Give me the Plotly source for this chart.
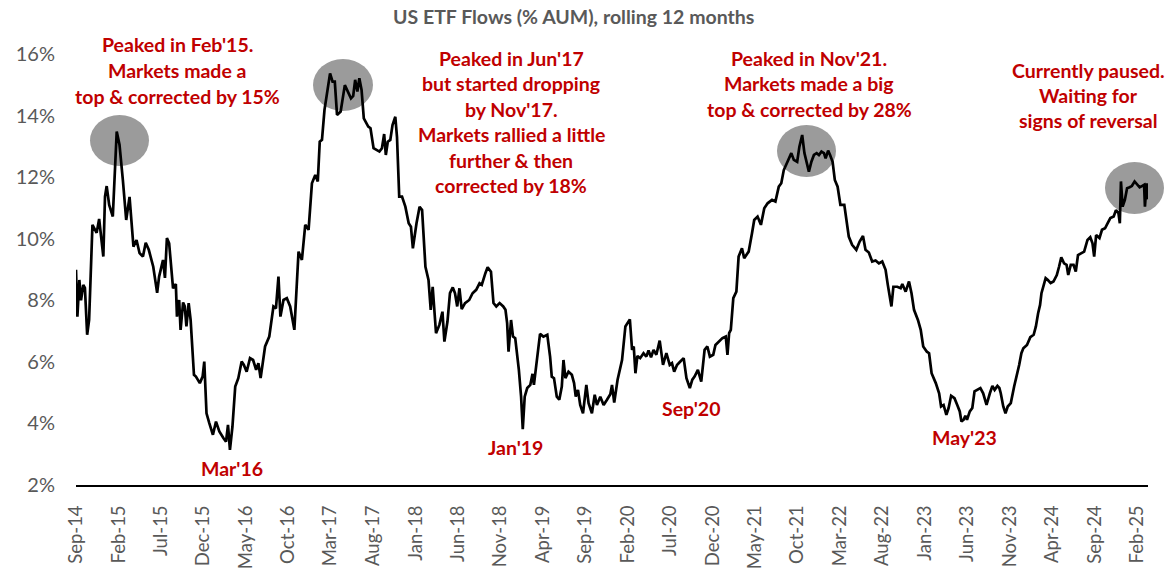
import plotly.graph_objects as go
import pandas as pd

# ---------------- data ----------------
dates = [
    "2014-09-01","2014-09-06","2014-09-13","2014-09-19","2014-09-27","2014-10-03","2014-10-11","2014-10-18","2014-10-30","2014-11-14","2014-11-23","2014-12-08","2014-12-14","2014-12-20","2014-12-29",
    "2015-01-11","2015-01-25","2015-02-04","2015-02-16","2015-02-28","2015-03-12","2015-03-26","2015-04-06","2015-04-17","2015-04-29","2015-05-09","2015-05-20","2015-06-05","2015-06-19","2015-06-26","2015-07-10","2015-07-17","2015-07-24","2015-08-01","2015-08-15","2015-08-25","2015-08-29","2015-09-06","2015-09-11","2015-09-20","2015-09-26","2015-10-02","2015-10-10","2015-10-17","2015-10-29","2015-11-05","2015-11-19","2015-11-29","2015-12-05","2015-12-13","2015-12-23",
    "2016-01-05","2016-01-16","2016-01-28","2016-02-12","2016-02-21","2016-02-28","2016-03-06","2016-03-15","2016-03-25","2016-04-05","2016-04-17","2016-04-25","2016-05-05","2016-05-17","2016-05-28","2016-06-08","2016-06-16","2016-06-24","2016-07-10","2016-07-25","2016-08-09","2016-08-18","2016-08-27","2016-09-03","2016-09-14","2016-09-26","2016-10-08","2016-10-23","2016-11-07","2016-11-19","2016-12-01","2016-12-13","2016-12-25",
    "2017-01-06","2017-01-15","2017-01-22","2017-01-30","2017-02-08","2017-02-19","2017-02-28","2017-03-09","2017-03-17","2017-03-25","2017-04-07","2017-04-22","2017-05-04","2017-05-14","2017-05-22","2017-05-29","2017-06-06","2017-06-13","2017-06-21","2017-06-29","2017-07-15","2017-07-23","2017-08-03","2017-08-15","2017-08-24","2017-09-02","2017-09-10","2017-09-16","2017-09-23","2017-10-02","2017-10-10","2017-10-20","2017-10-26","2017-11-03","2017-11-13","2017-11-25","2017-12-07","2017-12-15","2017-12-22",
    "2018-01-04","2018-01-15","2018-01-24","2018-02-05","2018-02-16","2018-02-24","2018-03-03","2018-03-15","2018-03-27","2018-04-07","2018-04-14","2018-04-25","2018-05-04","2018-05-14","2018-05-22","2018-05-30","2018-06-07","2018-06-15","2018-06-27","2018-07-12","2018-07-24","2018-08-06","2018-08-18","2018-08-26","2018-09-08","2018-09-16","2018-09-28","2018-10-07","2018-10-17","2018-10-29","2018-11-11","2018-11-19","2018-11-25","2018-11-30","2018-12-09","2018-12-16","2018-12-24",
    "2019-01-06","2019-01-14","2019-01-20","2019-01-27","2019-02-05","2019-02-16","2019-02-24","2019-03-01","2019-03-11","2019-03-23","2019-04-04","2019-04-18","2019-04-28","2019-05-04","2019-05-12","2019-05-22","2019-05-31","2019-06-09","2019-06-15","2019-06-22","2019-07-03","2019-07-15","2019-07-23","2019-07-29","2019-08-06","2019-08-14","2019-08-24","2019-09-05","2019-09-13","2019-09-25","2019-10-05","2019-10-13","2019-10-25","2019-11-06","2019-11-18","2019-11-30","2019-12-06","2019-12-14","2019-12-26",
    "2020-01-11","2020-01-23","2020-02-08","2020-02-16","2020-02-22","2020-02-28","2020-03-06","2020-03-16","2020-03-28","2020-04-07","2020-04-15","2020-04-24","2020-05-03","2020-05-13","2020-05-25","2020-06-06","2020-06-18","2020-06-30","2020-07-08","2020-07-16","2020-07-26","2020-08-07","2020-08-19","2020-08-29","2020-09-10","2020-09-19","2020-09-27","2020-10-09","2020-10-21","2020-11-02","2020-11-12","2020-11-21","2020-12-03","2020-12-11","2020-12-23",
    "2021-01-05","2021-01-17","2021-01-23","2021-01-29","2021-02-04","2021-02-13","2021-02-24","2021-03-04","2021-03-16","2021-03-24","2021-04-09","2021-04-21","2021-04-29","2021-05-11","2021-05-23","2021-06-04","2021-06-16","2021-07-02","2021-07-14","2021-07-26","2021-08-04","2021-08-13","2021-08-25","2021-09-09","2021-09-18","2021-09-30","2021-10-08","2021-10-18","2021-10-26","2021-11-03","2021-11-11","2021-11-20","2021-11-29","2021-12-09","2021-12-17","2021-12-26",
    "2022-01-04","2022-01-10","2022-01-19","2022-01-26","2022-02-04","2022-02-12","2022-02-22","2022-03-04","2022-03-18","2022-04-03","2022-04-15","2022-04-30","2022-05-12","2022-05-24","2022-06-02","2022-06-14","2022-06-26","2022-07-08","2022-07-20","2022-08-01","2022-08-13","2022-08-21","2022-08-28","2022-09-03","2022-09-10","2022-09-24","2022-10-06","2022-10-12","2022-10-24","2022-11-05","2022-11-14","2022-11-23","2022-12-07","2022-12-17","2022-12-26",
    "2023-01-08","2023-01-16","2023-01-25","2023-02-09","2023-02-21","2023-02-28","2023-03-09","2023-03-19","2023-03-27","2023-04-05","2023-04-17","2023-04-27","2023-05-06","2023-05-12","2023-05-20","2023-05-26","2023-06-01","2023-06-11","2023-06-20","2023-06-28","2023-07-08","2023-07-19","2023-07-29","2023-08-10","2023-08-22","2023-08-31","2023-09-08","2023-09-18","2023-09-25","2023-09-30","2023-10-09","2023-10-17","2023-10-25","2023-11-05","2023-11-17","2023-11-26","2023-12-05","2023-12-13","2023-12-20",
    "2024-01-02","2024-01-14","2024-01-26","2024-02-03","2024-02-11","2024-02-18","2024-02-23","2024-03-01","2024-03-09","2024-03-17","2024-03-27","2024-04-06","2024-04-18","2024-04-26","2024-05-04","2024-05-14","2024-05-23","2024-05-29","2024-06-07","2024-06-17","2024-06-25","2024-07-03","2024-07-13","2024-07-25","2024-08-06","2024-08-16","2024-08-24","2024-08-30","2024-09-06","2024-09-18","2024-09-27","2024-10-08","2024-10-17","2024-10-27","2024-11-08","2024-11-16","2024-11-25","2024-11-30","2024-12-04","2024-12-10","2024-12-18","2024-12-26",
    "2025-01-04","2025-01-12","2025-01-22","2025-02-01","2025-02-09","2025-02-17","2025-02-25","2025-02-28","2025-03-06","2025-03-11",
]

flows_pct = [
    8.99,7.47,8.66,8.00,8.50,8.40,6.88,7.36,10.45,10.19,10.64,9.42,11.37,11.71,11.10,
    10.72,13.48,13.05,11.91,10.61,11.36,9.74,9.96,9.53,9.42,9.87,9.64,9.09,8.24,8.77,9.31,8.73,10.02,9.85,8.39,8.53,7.47,8.01,7.04,7.93,7.80,7.15,7.91,7.36,5.58,5.52,5.31,5.52,6.01,4.33,4.01,
    3.63,4.06,3.74,3.52,3.41,3.95,3.14,3.90,5.20,5.47,6.01,5.90,5.68,6.12,6.06,5.74,5.96,5.47,6.50,6.82,7.80,7.74,8.77,7.47,8.01,8.07,7.80,7.04,9.58,9.31,10.45,10.29,11.80,
    12.07,11.86,13.15,13.21,14.18,14.83,15.37,15.10,15.10,14.02,14.13,14.99,14.78,14.56,14.64,15.16,14.78,15.21,14.83,13.91,13.64,13.59,12.94,12.88,12.83,12.94,13.40,12.72,13.15,13.21,13.69,13.96,13.31,11.37,11.37,11.04,10.50,10.39,9.69,
    10.50,11.04,10.93,9.09,8.66,7.69,8.44,6.93,7.20,7.63,6.66,7.31,8.23,8.42,8.23,7.80,8.39,7.71,7.91,8.01,8.23,8.34,8.55,8.50,8.88,9.07,8.93,7.91,7.80,7.91,7.80,7.69,7.26,6.33,7.36,6.82,6.77,
    5.74,4.87,3.81,4.87,5.15,5.25,5.61,5.25,6.06,6.91,6.82,6.88,6.17,5.52,5.47,4.87,4.77,5.20,6.06,5.47,5.68,5.58,5.31,4.87,5.09,4.60,4.33,5.25,4.66,4.33,4.93,4.60,4.87,4.60,4.77,4.95,5.25,4.68,5.42,
    6.06,7.15,7.38,6.39,6.50,5.63,6.19,6.12,6.28,6.17,6.37,6.15,6.39,6.23,6.69,5.90,6.28,5.90,5.96,5.68,5.90,6.01,6.12,5.47,5.15,5.42,5.52,5.74,5.36,6.39,6.50,6.17,6.23,6.55,6.66,
    6.77,6.82,6.23,6.93,7.04,8.07,8.28,9.42,9.69,9.37,9.58,10.18,10.61,10.72,10.45,10.99,11.15,11.26,11.21,11.69,11.80,12.23,12.45,12.78,12.56,12.50,12.99,13.37,12.78,12.45,12.18,12.50,12.72,12.78,12.72,12.83,
    12.78,12.61,12.86,12.72,12.50,11.91,11.69,11.10,11.10,10.07,9.80,9.64,9.91,10.09,9.64,9.55,9.26,9.29,9.20,9.26,8.99,8.50,8.12,7.80,8.44,8.44,8.39,8.53,8.28,8.61,8.23,7.69,7.36,7.04,6.50,
    6.33,6.28,5.63,5.31,4.98,4.55,4.60,4.28,4.50,4.90,4.82,4.60,4.39,4.06,4.12,4.25,4.12,4.39,4.50,5.04,5.09,5.15,4.98,4.60,4.98,5.22,5.09,5.22,5.15,4.98,4.55,4.33,4.55,4.66,5.20,5.52,5.90,6.28,6.44,
    6.55,6.80,6.88,7.15,7.58,7.85,8.23,8.50,8.72,8.66,8.56,8.61,8.82,9.09,9.40,9.20,9.15,8.82,9.15,9.15,8.93,9.47,9.53,9.58,9.96,10.05,9.85,9.42,10.12,10.02,10.29,10.34,10.50,10.67,10.72,10.93,10.83,10.50,11.86,11.04,11.26,11.64,
    11.67,11.71,11.86,11.75,11.67,11.71,11.75,11.04,11.80,11.28,
]

tick_labels = ["Sep-14","Feb-15","Jul-15","Dec-15","May-16","Oct-16","Mar-17","Aug-17",
               "Jan-18","Jun-18","Nov-18","Apr-19","Sep-19","Feb-20","Jul-20","Dec-20",
               "May-21","Oct-21","Mar-22","Aug-22","Jan-23","Jun-23","Nov-23","Apr-24",
               "Sep-24","Feb-25"]
y_ticks = [2, 4, 6, 8, 10, 12, 14, 16]

title_text = "US ETF Flows (% AUM), rolling 12 months"
peak_notes = [
    ["Peaked in Feb'15.", "Markets made a", "top & corrected by 15%"],
    ["Peaked in Jun'17", "but started dropping", "by Nov'17.", "Markets rallied a little",
     "further & then", "corrected by 18%"],
    ["Peaked in Nov'21.", "Markets made a big", "top & corrected by 28%"],
    ["Currently paused.", "Waiting for", "signs of reversal"],
]
trough_labels = ["Mar'16", "Jan'19", "Sep'20", "May'23"]

# ---------------- layout helpers ----------------
FIG_W, FIG_H = 1170, 572
L, R, T, B = 76, 22, 54, 87
PW, PH = FIG_W - L - R, FIG_H - T - B


def px(x):
    return (x - L) / PW


def py(y):
    return (FIG_H - B - y) / PH


RED = "#C00000"
GREY = "#595959"
FONT = "Lato"
NOTE_SIZE = 19.5

tick_dates = pd.date_range("2014-09-01", periods=len(tick_labels), freq="5MS")

fig = go.Figure()
fig.add_trace(go.Scatter(
    x=pd.to_datetime(dates), y=flows_pct, mode="lines",
    line=dict(color="black", width=2.7), hoverinfo="skip", showlegend=False,
))

# grey ellipses around the peaks (pixel boxes -> paper coords)
ellipse_boxes = [(90, 115, 149, 166), (313, 59, 373, 111), (777, 125, 836, 177), (1105, 162, 1164, 214)]
for x0, y0, x1, y1 in ellipse_boxes:
    fig.add_shape(type="circle", xref="paper", yref="paper",
                  x0=px(x0), x1=px(x1), y0=py(y1), y1=py(y0),
                  fillcolor="#9b9b9b", line=dict(width=0), layer="below")

annotations = []
note_pos = [(177, 45), (511, 58), (809, 58), (1088, 70)]
line_gap = 25.5
for lines, (cx, cy) in zip(peak_notes, note_pos):
    for i, t in enumerate(lines):
        annotations.append(dict(
            x=px(cx), y=py(cy + i * line_gap), xref="paper", yref="paper",
            text="<b>" + t + "</b>", showarrow=False, xanchor="center", yanchor="middle",
            font=dict(family=FONT, size=NOTE_SIZE, color=RED)))

trough_pos = [(232, 468), (515, 447), (691, 408), (964, 437)]
for t, (cx, cy) in zip(trough_labels, trough_pos):
    annotations.append(dict(
        x=px(cx), y=py(cy), xref="paper", yref="paper",
        text="<b>" + t + "</b>", showarrow=False, xanchor="center", yanchor="middle",
        font=dict(family=FONT, size=NOTE_SIZE, color=RED)))

annotations.append(dict(
    x=px(573), y=py(17), xref="paper", yref="paper",
    text="<b>" + title_text + "</b>", showarrow=False, xanchor="center", yanchor="middle",
    font=dict(family=FONT, size=19.5, color=GREY)))

fig.update_layout(
    width=FIG_W, height=FIG_H,
    margin=dict(l=L, r=R, t=T, b=B, pad=0, autoexpand=False),
    paper_bgcolor="white", plot_bgcolor="white",
    annotations=annotations,
    showlegend=False,
    xaxis=dict(
        type="date", range=[dates[0], dates[-1]], automargin=False,
        tickmode="array", tickvals=tick_dates, ticktext=tick_labels,
        tickangle=-90, tickfont=dict(family=FONT, size=18.5, color=GREY),
        showgrid=False, zeroline=False, showline=True, linecolor="black", linewidth=2,
        ticks="", ticklabelstandoff=11,
    ),
    yaxis=dict(
        range=[2, 16], tickmode="array", tickvals=y_ticks, automargin=False,
        ticktext=[f"{v}%" for v in y_ticks],
        tickfont=dict(family=FONT, size=20, color=GREY),
        showgrid=False, zeroline=False, showline=False, ticks="",
        ticklabelstandoff=20,
    ),
)

fig.write_html("out.html")
